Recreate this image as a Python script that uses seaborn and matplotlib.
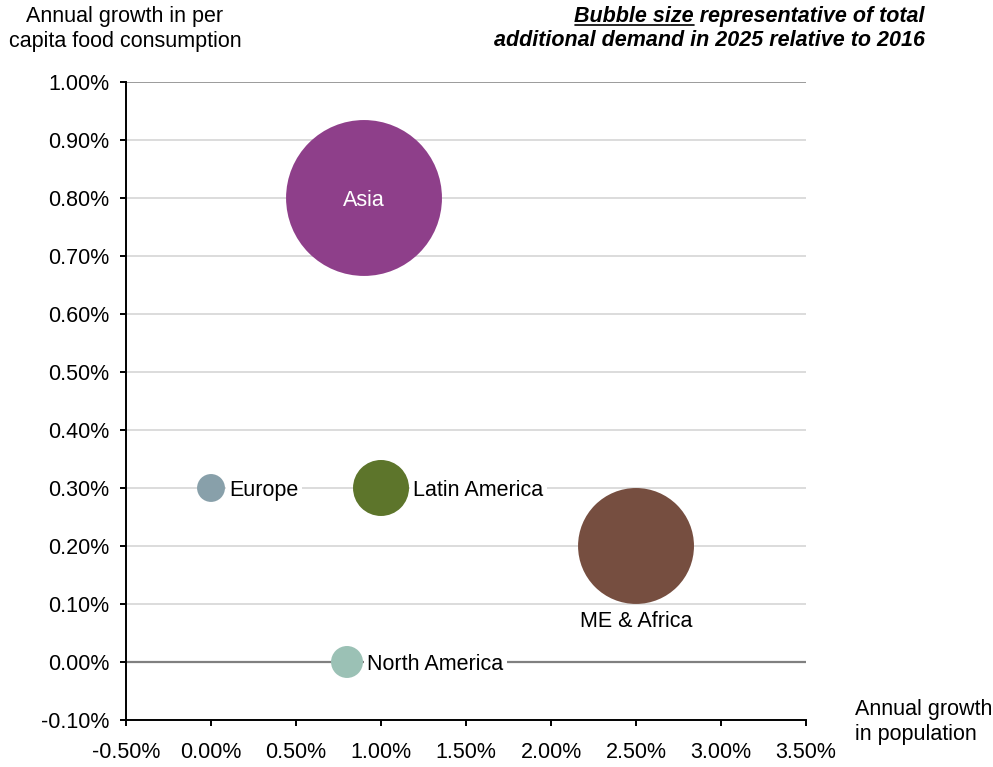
import numpy as np
import pandas as pd
import matplotlib
matplotlib.use("Agg")
import matplotlib.pyplot as plt
from matplotlib.lines import Line2D
from matplotlib.ticker import FuncFormatter
import seaborn as sns

# ---- data ----
regions = ["Asia", "ME & Africa", "Latin America", "Europe", "North America"]
pop_growth = [0.90, 2.50, 1.00, 0.00, 0.80]          # % per year (x)
food_growth = [0.80, 0.20, 0.30, 0.30, 0.00]         # % per year (y)
add_demand = [100.0, 55.3, 12.9, 3.2, 4.2]           # relative bubble size
colors = ["#8E3F8A", "#764E40", "#5D752B", "#88A0AA", "#9BC1B5"]

x_ticks = [-0.5, 0.0, 0.5, 1.0, 1.5, 2.0, 2.5, 3.0, 3.5]
y_ticks = [-0.1, 0.0, 0.1, 0.2, 0.3, 0.4, 0.5, 0.6, 0.7, 0.8, 0.9, 1.0]

df = pd.DataFrame({"region": regions, "pop": pop_growth,
                   "food": food_growth, "demand": add_demand})

sns.set_theme(style="white")
plt.rcParams["font.family"] = ["Liberation Sans", "DejaVu Sans"]
FS = 15.5

fig = plt.figure(figsize=(9.93, 7.67), dpi=100)
ax = fig.add_axes([0.1269, 0.0613, 0.6848, 0.8318])

S_MAX = 12600.0
sns.scatterplot(data=df, x="pop", y="food", hue="region", size="demand",
                palette=dict(zip(regions, colors)), sizes=(0, S_MAX),
                size_norm=(0, max(add_demand)), linewidth=0, alpha=1,
                legend=False, ax=ax, zorder=3)

ax.set_xlim(x_ticks[0], x_ticks[-1])
ax.set_ylim(y_ticks[0], y_ticks[-1])
ax.set_xticks(x_ticks)
ax.set_yticks(y_ticks)
fmt = FuncFormatter(lambda v, p: f"{v:.2f}%")
ax.xaxis.set_major_formatter(fmt)
ax.yaxis.set_major_formatter(fmt)
ax.set_xlabel("")
ax.set_ylabel("")

# gridlines
for yv in y_ticks[1:]:
    if abs(yv) < 1e-9:
        ax.axhline(yv, color="#808080", lw=1.6, zorder=1)
    elif yv == y_ticks[-1]:
        ax.axhline(yv, color="#808080", lw=1.1, zorder=1)
    else:
        ax.axhline(yv, color="#D9D9D9", lw=1.3, zorder=1)

for s in ["top", "right"]:
    ax.spines[s].set_visible(False)
for s in ["left", "bottom"]:
    ax.spines[s].set_color("black")
    ax.spines[s].set_linewidth(1.4)
    ax.spines[s].set_zorder(4)
ax.tick_params(axis="both", which="major", direction="out", length=4,
               width=1.4, color="black", labelsize=FS, labelcolor="black",
               left=True, bottom=True)
ax.tick_params(axis="x", pad=12)
ax.tick_params(axis="y", pad=8)

# data labels
for r, xv, yv, d in zip(regions, pop_growth, food_growth, add_demand):
    r_pt = np.sqrt(d / max(add_demand) * S_MAX) / 2
    if r == "Asia":
        ax.annotate(r, (xv, yv), ha="center", va="center_baseline", color="white",
                    fontsize=FS, zorder=5)
    elif r == "ME & Africa":
        ax.annotate(r, (xv, yv), xytext=(0, -r_pt - 5), textcoords="offset points",
                    ha="center", va="top", color="black", fontsize=FS, zorder=5,
                    bbox=dict(boxstyle="square,pad=0.1", fc="white", ec="none"))
    else:
        ax.annotate(r, (xv, yv), xytext=(r_pt + 3, 0), textcoords="offset points",
                    ha="left", va="center_baseline", color="black", fontsize=FS,
                    zorder=5,
                    bbox=dict(boxstyle="square,pad=0.15", fc="white", ec="none"))

# axis titles
fig.text(125 / 993, 1 - 6 / 767, "Annual growth in per\ncapita food consumption",
         ha="center", va="top", fontsize=FS, linespacing=1.22, color="black")
fig.text(855 / 993, 1 - 699 / 767, "Annual growth\nin population",
         ha="left", va="top", fontsize=FS, linespacing=1.22, color="black")

# title with underlined part
t1 = fig.text(925 / 993, 1 - 6 / 767, "Bubble size representative of total",
              ha="right", va="top", fontsize=FS, fontweight="bold",
              fontstyle="italic", color="black")
fig.text(925 / 993, 1 - 30 / 767, "additional demand in 2025 relative to 2016",
         ha="right", va="top", fontsize=FS, fontweight="bold",
         fontstyle="italic", color="black")
fig.canvas.draw()
renderer = fig.canvas.get_renderer()
bb = t1.get_window_extent(renderer)
tmp = fig.text(0, 0, "Bubble size", fontsize=FS, fontweight="bold",
               fontstyle="italic")
wb = tmp.get_window_extent(renderer).width
tmp.remove()
uy = bb.y0 + 2.5
fig.add_artist(Line2D([bb.x0 / 993, (bb.x0 + wb) / 993], [uy / 767, uy / 767],
                      color="black", lw=1.2, transform=fig.transFigure))

fig.savefig("out.png", dpi=100)
